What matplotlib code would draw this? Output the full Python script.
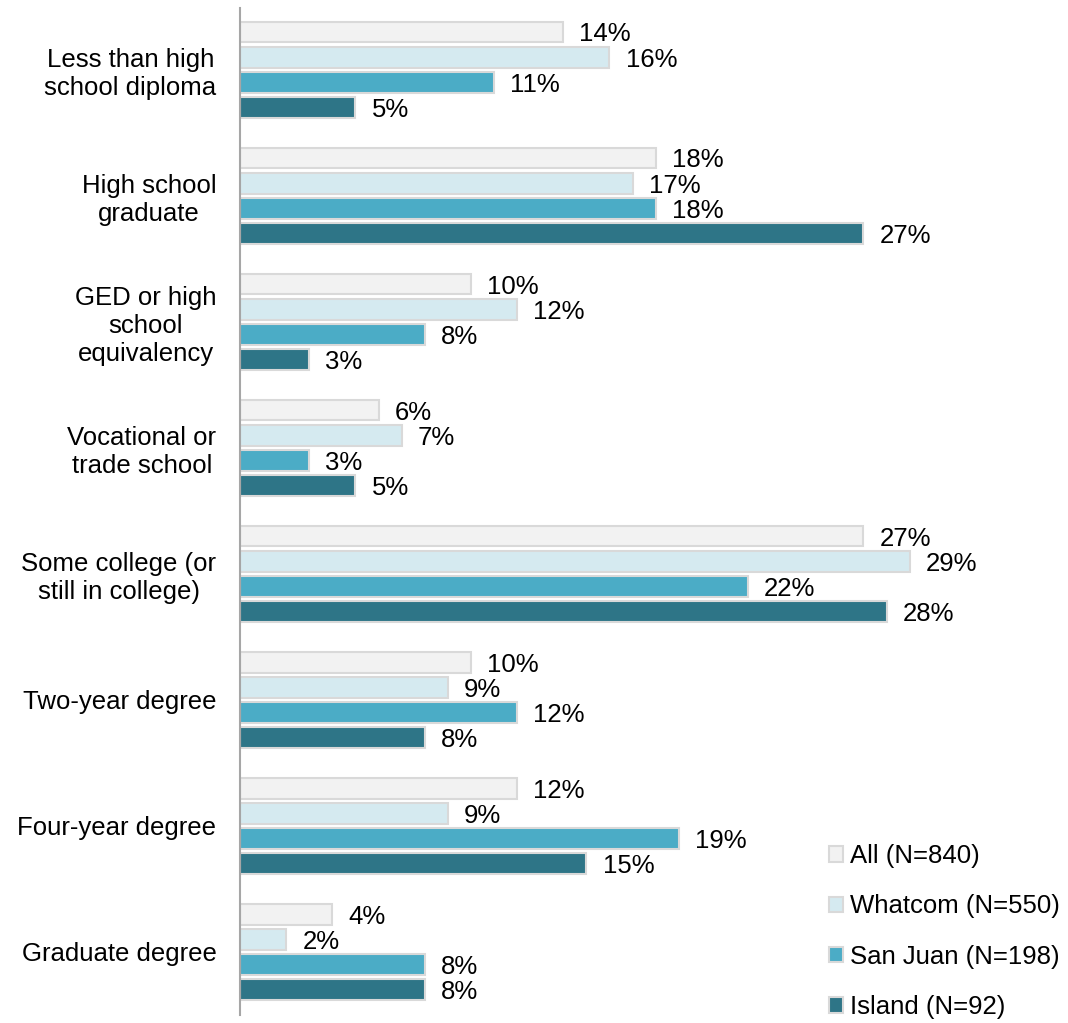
import matplotlib.pyplot as plt
from matplotlib.patches import Patch
import numpy as np

plt.rcParams['font.family'] = ['Liberation Sans', 'DejaVu Sans']

categories = [
    'Less than high\nschool diploma',
    'High school\ngraduate',
    'GED or high\nschool\nequivalency',
    'Vocational or\ntrade school',
    'Some college (or\nstill in college)',
    'Two-year degree',
    'Four-year degree',
    'Graduate degree',
]
series_names = ['All (N=840)', 'Whatcom (N=550)', 'San Juan (N=198)', 'Island (N=92)']
all_pct = [14, 18, 10, 6, 27, 10, 12, 4]
whatcom_pct = [16, 17, 12, 7, 29, 9, 9, 2]
san_juan_pct = [11, 18, 8, 3, 22, 12, 19, 8]
island_pct = [5, 27, 3, 5, 28, 8, 15, 8]

colors = ['#F2F2F2', '#D5EAF0', '#4BACC6', '#2E7587']
edge = '#D9D9D9'
fs = 18.5

fig = plt.figure(figsize=(10.68, 10.23), dpi=100)
ax = fig.add_axes([240 / 1068, 8 / 1023, 822 / 1068, 1007 / 1023])

groups = np.arange(len(categories))
step = 0.2
height = 0.165
series = [all_pct, whatcom_pct, san_juan_pct, island_pct]

for j, (vals, col) in enumerate(zip(series, colors)):
    ys = groups + (j - 1.5) * step
    ax.barh(ys, vals, height=height, color=col, edgecolor=edge, linewidth=1.5)
    for y, v in zip(ys, vals):
        ax.text(v + 0.7, y + 0.02, f'{v}%', va='center', ha='left', fontsize=fs)

ax.set_xlim(0, 35.6)
ax.set_ylim(7.5, -0.49)
ax.set_yticks(groups)
ax.set_yticklabels(categories, fontsize=fs, multialignment='center')
ax.tick_params(axis='y', length=0, pad=17)
ax.set_xticks([])
for s in ['top', 'right', 'bottom']:
    ax.spines[s].set_visible(False)
ax.spines['left'].set_color('#A6A6A6')
ax.spines['left'].set_linewidth(1.5)

handles = [Patch(facecolor=c, edgecolor=edge, linewidth=1.5) for c in colors]
ax.legend(handles, series_names, loc='lower left', bbox_to_anchor=(0.701, -0.017),
          frameon=False, fontsize=fs, handlelength=0.55, handleheight=0.55,
          handletextpad=0.25, labelspacing=1.03, borderpad=0)

fig.savefig('out.png', dpi=100)
